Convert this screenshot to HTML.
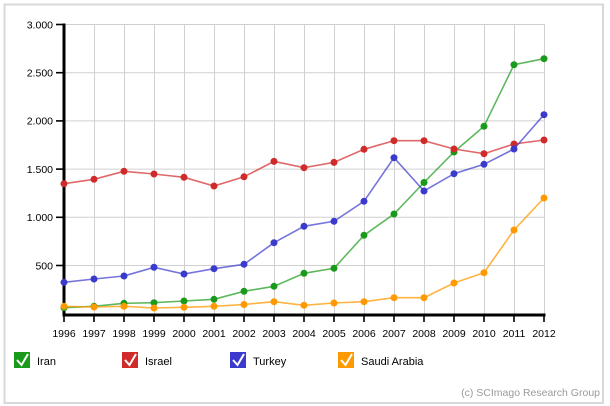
<!DOCTYPE html>
<html>
<head>
<meta charset="utf-8">
<style>
  html,body{margin:0;padding:0;background:#fff;}
  body{width:610px;height:406px;overflow:hidden;}
  svg{display:block;font-family:"Liberation Sans",Arial,sans-serif;}
</style>
</head>
<body>
<svg width="610" height="406" viewBox="0 0 610 406" xmlns="http://www.w3.org/2000/svg">
  <!-- outer frame -->
  <rect x="4.5" y="4.5" width="598.5" height="398.5" fill="#fff" stroke="#d8d8d8" stroke-width="2"/>

  <!-- horizontal grid -->
  <g stroke="#d0d0d0" stroke-width="1">
    <line x1="64" y1="24.5" x2="544.5" y2="24.5"/>
    <line x1="64" y1="72.7" x2="544.5" y2="72.7"/>
    <line x1="64" y1="120.9" x2="544.5" y2="120.9"/>
    <line x1="64" y1="169.1" x2="544.5" y2="169.1"/>
    <line x1="64" y1="217.3" x2="544.5" y2="217.3"/>
    <line x1="64" y1="265.5" x2="544.5" y2="265.5"/>
  </g>
  <!-- vertical grid -->
  <g stroke="#d0d0d0" stroke-width="1">
    <line x1="94.5" y1="24.5" x2="94.5" y2="314"/>
    <line x1="124.5" y1="24.5" x2="124.5" y2="314"/>
    <line x1="154.5" y1="24.5" x2="154.5" y2="314"/>
    <line x1="184.5" y1="24.5" x2="184.5" y2="314"/>
    <line x1="214.5" y1="24.5" x2="214.5" y2="314"/>
    <line x1="244.5" y1="24.5" x2="244.5" y2="314"/>
    <line x1="274.5" y1="24.5" x2="274.5" y2="314"/>
    <line x1="304.5" y1="24.5" x2="304.5" y2="314"/>
    <line x1="334.5" y1="24.5" x2="334.5" y2="314"/>
    <line x1="364.5" y1="24.5" x2="364.5" y2="314"/>
    <line x1="394.5" y1="24.5" x2="394.5" y2="314"/>
    <line x1="424.5" y1="24.5" x2="424.5" y2="314"/>
    <line x1="454.5" y1="24.5" x2="454.5" y2="314"/>
    <line x1="484.5" y1="24.5" x2="484.5" y2="314"/>
    <line x1="514.5" y1="24.5" x2="514.5" y2="314"/>
    <line x1="544.5" y1="24.5" x2="544.5" y2="314"/>
  </g>

  <!-- axes -->
  <g stroke="#000">
    <line x1="64" y1="23.5" x2="64" y2="316.5" stroke-width="3"/>
    <line x1="62.5" y1="315" x2="545.5" y2="315" stroke-width="3"/>
  </g>
  <!-- y ticks -->
  <g stroke="#000" stroke-width="1.6">
    <line x1="56" y1="24.5" x2="64" y2="24.5"/>
    <line x1="56" y1="72.7" x2="64" y2="72.7"/>
    <line x1="56" y1="120.9" x2="64" y2="120.9"/>
    <line x1="56" y1="169.1" x2="64" y2="169.1"/>
    <line x1="56" y1="217.3" x2="64" y2="217.3"/>
    <line x1="56" y1="265.5" x2="64" y2="265.5"/>
  </g>
  <!-- x ticks -->
  <g stroke="#000" stroke-width="1.6">
    <line x1="64" y1="315" x2="64" y2="322"/>
    <line x1="94" y1="315" x2="94" y2="322"/>
    <line x1="124" y1="315" x2="124" y2="322"/>
    <line x1="154" y1="315" x2="154" y2="322"/>
    <line x1="184" y1="315" x2="184" y2="322"/>
    <line x1="214" y1="315" x2="214" y2="322"/>
    <line x1="244" y1="315" x2="244" y2="322"/>
    <line x1="274" y1="315" x2="274" y2="322"/>
    <line x1="304" y1="315" x2="304" y2="322"/>
    <line x1="334" y1="315" x2="334" y2="322"/>
    <line x1="364" y1="315" x2="364" y2="322"/>
    <line x1="394" y1="315" x2="394" y2="322"/>
    <line x1="424" y1="315" x2="424" y2="322"/>
    <line x1="454" y1="315" x2="454" y2="322"/>
    <line x1="484" y1="315" x2="484" y2="322"/>
    <line x1="514" y1="315" x2="514" y2="322"/>
    <line x1="544" y1="315" x2="544" y2="322"/>
  </g>

  <!-- y labels -->
  <g font-size="10.5" fill="#000" text-anchor="end">
    <text x="53" y="28.3">3.000</text>
    <text x="53" y="76.5">2.500</text>
    <text x="53" y="124.7">2.000</text>
    <text x="53" y="172.9">1.500</text>
    <text x="53" y="221.1">1.000</text>
    <text x="53" y="269.3">500</text>
  </g>
  <!-- x labels -->
  <g font-size="10.5" fill="#000" text-anchor="middle">
    <text x="64" y="337">1996</text>
    <text x="94" y="337">1997</text>
    <text x="124" y="337">1998</text>
    <text x="154" y="337">1999</text>
    <text x="184" y="337">2000</text>
    <text x="214" y="337">2001</text>
    <text x="244" y="337">2002</text>
    <text x="274" y="337">2003</text>
    <text x="304" y="337">2004</text>
    <text x="334" y="337">2005</text>
    <text x="364" y="337">2006</text>
    <text x="394" y="337">2007</text>
    <text x="424" y="337">2008</text>
    <text x="454" y="337">2009</text>
    <text x="484" y="337">2010</text>
    <text x="514" y="337">2011</text>
    <text x="544" y="337">2012</text>
  </g>

  <!-- Iran -->
  <g>
    <polyline fill="none" stroke="#1a9a1a" stroke-opacity="0.7" stroke-width="1.6"
      points="64,307.7 94,306.3 124,303.3 154,302.7 184,301 214,299.3 244,291.3 274,286.3 304,273.3 334,268.3 364,235.3 394,214 424,182.5 454,152 484,126.3 514,64.7 544,58.7"/>
    <g fill="#1a9a1a">
      <circle cx="64" cy="307.7" r="3.5"/><circle cx="94" cy="306.3" r="3.5"/><circle cx="124" cy="303.3" r="3.5"/>
      <circle cx="154" cy="302.7" r="3.5"/><circle cx="184" cy="301" r="3.5"/><circle cx="214" cy="299.3" r="3.5"/>
      <circle cx="244" cy="291.3" r="3.5"/><circle cx="274" cy="286.3" r="3.5"/><circle cx="304" cy="273.3" r="3.5"/>
      <circle cx="334" cy="268.3" r="3.5"/><circle cx="364" cy="235.3" r="3.5"/><circle cx="394" cy="214" r="3.5"/>
      <circle cx="424" cy="182.5" r="3.5"/><circle cx="454" cy="152" r="3.5"/><circle cx="484" cy="126.3" r="3.5"/>
      <circle cx="514" cy="64.7" r="3.5"/><circle cx="544" cy="58.7" r="3.5"/>
    </g>
  </g>

  <!-- Israel -->
  <g>
    <polyline fill="none" stroke="#d12a2a" stroke-opacity="0.7" stroke-width="1.6"
      points="64,183.7 94,179.3 124,171.3 154,174 184,177.3 214,186 244,176.8 274,161.4 304,167.7 334,162.4 364,149.3 394,140.7 424,140.7 454,149 484,153.7 514,144 544,140"/>
    <g fill="#d12a2a">
      <circle cx="64" cy="183.7" r="3.5"/><circle cx="94" cy="179.3" r="3.5"/><circle cx="124" cy="171.3" r="3.5"/>
      <circle cx="154" cy="174" r="3.5"/><circle cx="184" cy="177.3" r="3.5"/><circle cx="214" cy="186" r="3.5"/>
      <circle cx="244" cy="176.8" r="3.5"/><circle cx="274" cy="161.4" r="3.5"/><circle cx="304" cy="167.7" r="3.5"/>
      <circle cx="334" cy="162.4" r="3.5"/><circle cx="364" cy="149.3" r="3.5"/><circle cx="394" cy="140.7" r="3.5"/>
      <circle cx="424" cy="140.7" r="3.5"/><circle cx="454" cy="149" r="3.5"/><circle cx="484" cy="153.7" r="3.5"/>
      <circle cx="514" cy="144" r="3.5"/><circle cx="544" cy="140" r="3.5"/>
    </g>
  </g>

  <!-- Turkey -->
  <g>
    <polyline fill="none" stroke="#3a3acc" stroke-opacity="0.7" stroke-width="1.6"
      points="64,282.3 94,279 124,276 154,267.3 184,274 214,268.7 244,264.3 274,242.7 304,226.3 334,221.3 364,201.3 394,157.7 424,191 454,173.7 484,164.3 514,149 544,114.7"/>
    <g fill="#3a3acc">
      <circle cx="64" cy="282.3" r="3.5"/><circle cx="94" cy="279" r="3.5"/><circle cx="124" cy="276" r="3.5"/>
      <circle cx="154" cy="267.3" r="3.5"/><circle cx="184" cy="274" r="3.5"/><circle cx="214" cy="268.7" r="3.5"/>
      <circle cx="244" cy="264.3" r="3.5"/><circle cx="274" cy="242.7" r="3.5"/><circle cx="304" cy="226.3" r="3.5"/>
      <circle cx="334" cy="221.3" r="3.5"/><circle cx="364" cy="201.3" r="3.5"/><circle cx="394" cy="157.7" r="3.5"/>
      <circle cx="424" cy="191" r="3.5"/><circle cx="454" cy="173.7" r="3.5"/><circle cx="484" cy="164.3" r="3.5"/>
      <circle cx="514" cy="149" r="3.5"/><circle cx="544" cy="114.7" r="3.5"/>
    </g>
  </g>

  <!-- Saudi Arabia -->
  <g>
    <polyline fill="none" stroke="#ff9900" stroke-opacity="0.75" stroke-width="1.6"
      points="64,306.3 94,307 124,306.3 154,308 184,307.3 214,306.3 244,304.5 274,301.7 304,305.3 334,303 364,301.7 394,297.7 424,297.7 454,283 484,272.7 514,230 544,198"/>
    <g fill="#ff9900">
      <circle cx="64" cy="306.3" r="3.5"/><circle cx="94" cy="307" r="3.5"/><circle cx="124" cy="306.3" r="3.5"/>
      <circle cx="154" cy="308" r="3.5"/><circle cx="184" cy="307.3" r="3.5"/><circle cx="214" cy="306.3" r="3.5"/>
      <circle cx="244" cy="304.5" r="3.5"/><circle cx="274" cy="301.7" r="3.5"/><circle cx="304" cy="305.3" r="3.5"/>
      <circle cx="334" cy="303" r="3.5"/><circle cx="364" cy="301.7" r="3.5"/><circle cx="394" cy="297.7" r="3.5"/>
      <circle cx="424" cy="297.7" r="3.5"/><circle cx="454" cy="283" r="3.5"/><circle cx="484" cy="272.7" r="3.5"/>
      <circle cx="514" cy="230" r="3.5"/><circle cx="544" cy="198" r="3.5"/>
    </g>
  </g>

  <!-- legend -->
  <g>
    <rect x="14" y="352" width="16" height="16" fill="#1a9a1a"/>
    <polyline points="17,360 21.5,365 28,354" fill="none" stroke="#fff" stroke-width="2"/>
    <text x="37" y="365" font-size="11" fill="#000">Iran</text>

    <rect x="122" y="352" width="16" height="16" fill="#d12a2a"/>
    <polyline points="125,360 129.5,365 136,354" fill="none" stroke="#fff" stroke-width="2"/>
    <text x="145" y="365" font-size="11" fill="#000">Israel</text>

    <rect x="230" y="352" width="16" height="16" fill="#3a3acc"/>
    <polyline points="233,360 237.5,365 244,354" fill="none" stroke="#fff" stroke-width="2"/>
    <text x="253" y="365" font-size="11" fill="#000">Turkey</text>

    <rect x="338" y="352" width="16" height="16" fill="#ff9900"/>
    <polyline points="341,360 345.5,365 352,354" fill="none" stroke="#fff" stroke-width="2"/>
    <text x="361" y="365" font-size="11" fill="#000">Saudi Arabia</text>
  </g>

  <!-- credit -->
  <text x="600" y="396" font-size="10.5" fill="#9a9a9a" text-anchor="end">(c) SCImago Research Group</text>
</svg>
</body>
</html>
